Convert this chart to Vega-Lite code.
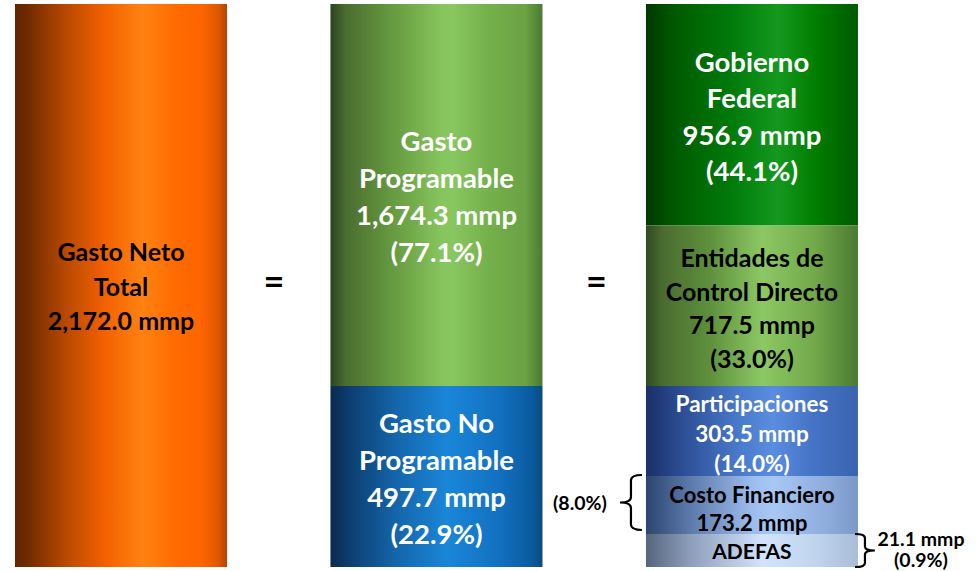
{
  "$schema": "https://vega.github.io/schema/vega-lite/v6.json",
  "width": 978,
  "height": 571,
  "autosize": {"type": "none"},
  "padding": 0,
  "background": "white",
  "config": {"view": {"stroke": null}, "text": {"font": "Lato", "fontWeight": "bold"}},
  "data": {
    "values": [
      {"col": "c1", "name": "Gasto Neto Total", "label": "Gasto Neto\nTotal\n2,172.0 mmp", "mmp": 2172.0, "pct": 100.0, "lo": 0, "hi": 100},
      {"col": "c2", "name": "Gasto Programable", "label": "Gasto\nProgramable\n1,674.3 mmp\n(77.1%)", "mmp": 1674.3, "pct": 77.1, "lo": 32.15, "hi": 100},
      {"col": "c2", "name": "Gasto No Programable", "label": "Gasto No\nProgramable\n497.7 mmp\n(22.9%)", "mmp": 497.7, "pct": 22.9, "lo": 0, "hi": 32.15},
      {"col": "c3", "name": "Gobierno Federal", "label": "Gobierno\nFederal\n956.9 mmp\n(44.1%)", "mmp": 956.9, "pct": 44.1, "lo": 60.66, "hi": 100},
      {"col": "c3", "name": "Entidades de Control Directo", "label": "Entidades de\nControl Directo\n717.5 mmp\n(33.0%)", "mmp": 717.5, "pct": 33.0, "lo": 32.15, "hi": 60.66},
      {"col": "c3", "name": "Participaciones", "label": "Participaciones\n303.5 mmp\n(14.0%)", "mmp": 303.5, "pct": 14.0, "lo": 16.16, "hi": 32.15},
      {"col": "c3", "name": "Costo Financiero", "label": "Costo Financiero\n173.2 mmp", "side": "(8.0%)", "mmp": 173.2, "pct": 8.0, "lo": 5.86, "hi": 16.16},
      {"col": "c3", "name": "ADEFAS", "label": "ADEFAS", "side": "21.1 mmp\n(0.9%)", "mmp": 21.1, "pct": 0.9, "lo": 0, "hi": 5.86}
    ]
  },
  "transform": [{"calculate": "(datum.lo + datum.hi) / 2", "as": "mid"}],
  "encoding": {
    "x": {"field": "col", "type": "nominal", "axis": null,
      "scale": {"domain": ["c1", "c2", "c3"], "paddingInner": 0.328, "paddingOuter": 0.214, "align": 0.111}}
  },
  "layer": [
    {"transform": [{"filter": "datum.name === 'Gasto Neto Total'"}],
     "mark": {"type": "bar", "color": {"gradient": "linear", "x1": 0, "y1": 0, "x2": 1, "y2": 0, "stops": [
       {"offset": 0, "color": "#622400"}, {"offset": 0.05, "color": "#6c2a00"}, {"offset": 0.25, "color": "#bc4a00"}, {"offset": 0.43, "color": "#f46200"}, {"offset": 0.6, "color": "#ff8212"}, {"offset": 0.75, "color": "#ff6c00"}, {"offset": 0.88, "color": "#ff6400"}, {"offset": 0.96, "color": "#dc5800"}, {"offset": 1, "color": "#b44400"}]}},
     "encoding": {"y": {"field": "lo", "type": "quantitative", "axis": null, "scale": {"domain": [-0.71, 100.71], "nice": false, "zero": false}}, "y2": {"field": "hi"}}},
    {"transform": [{"filter": "datum.name === 'Gasto Programable'"}],
     "mark": {"type": "bar", "color": {"gradient": "linear", "x1": 0, "y1": 0, "x2": 1, "y2": 0, "stops": [
       {"offset": 0, "color": "#2a4520"}, {"offset": 0.07, "color": "#4a6c30"}, {"offset": 0.28, "color": "#64983e"}, {"offset": 0.52, "color": "#86c45c"}, {"offset": 0.58, "color": "#88c660"}, {"offset": 0.75, "color": "#74b04a"}, {"offset": 0.92, "color": "#6aa244"}, {"offset": 1, "color": "#4a7a32"}]}},
     "encoding": {"y": {"field": "lo", "type": "quantitative"}, "y2": {"field": "hi"}}},
    {"transform": [{"filter": "datum.name === 'Gasto No Programable'"}],
     "mark": {"type": "bar", "color": {"gradient": "linear", "x1": 0, "y1": 0, "x2": 1, "y2": 0, "stops": [
       {"offset": 0, "color": "#0a2a50"}, {"offset": 0.1, "color": "#0d3f72"}, {"offset": 0.3, "color": "#1464a8"}, {"offset": 0.55, "color": "#1a86d8"}, {"offset": 0.8, "color": "#1270c0"}, {"offset": 0.95, "color": "#0a5a9e"}, {"offset": 1, "color": "#0a4a80"}]}},
     "encoding": {"y": {"field": "lo", "type": "quantitative"}, "y2": {"field": "hi"}}},
    {"transform": [{"filter": "datum.name === 'Gobierno Federal'"}],
     "mark": {"type": "bar", "color": {"gradient": "linear", "x1": 0, "y1": 0, "x2": 1, "y2": 0, "stops": [
       {"offset": 0, "color": "#003800"}, {"offset": 0.15, "color": "#005c00"}, {"offset": 0.4, "color": "#007a0a"}, {"offset": 0.62, "color": "#14981e"}, {"offset": 0.8, "color": "#007e00"}, {"offset": 1, "color": "#005a00"}]}},
     "encoding": {"y": {"field": "lo", "type": "quantitative"}, "y2": {"field": "hi"}}},
    {"transform": [{"filter": "datum.name === 'Entidades de Control Directo'"}],
     "mark": {"type": "bar", "color": {"gradient": "linear", "x1": 0, "y1": 0, "x2": 1, "y2": 0, "stops": [
       {"offset": 0, "color": "#2e4a22"}, {"offset": 0.08, "color": "#4a6c30"}, {"offset": 0.3, "color": "#5e903c"}, {"offset": 0.55, "color": "#8cc864"}, {"offset": 0.8, "color": "#72a84a"}, {"offset": 1, "color": "#4a7a32"}]}},
     "encoding": {"y": {"field": "lo", "type": "quantitative"}, "y2": {"field": "hi"}}},
    {"transform": [{"filter": "datum.name === 'Participaciones'"}],
     "mark": {"type": "bar", "color": {"gradient": "linear", "x1": 0, "y1": 0, "x2": 1, "y2": 0, "stops": [
       {"offset": 0, "color": "#1a3068"}, {"offset": 0.15, "color": "#2a4a90"}, {"offset": 0.45, "color": "#4a7ccc"}, {"offset": 0.6, "color": "#5a8ce0"}, {"offset": 0.8, "color": "#4472c4"}, {"offset": 1, "color": "#3a64b0"}]}},
     "encoding": {"y": {"field": "lo", "type": "quantitative"}, "y2": {"field": "hi"}}},
    {"transform": [{"filter": "datum.name === 'Costo Financiero'"}],
     "mark": {"type": "bar", "color": {"gradient": "linear", "x1": 0, "y1": 0, "x2": 1, "y2": 0, "stops": [
       {"offset": 0, "color": "#2c4470"}, {"offset": 0.2, "color": "#5a78a8"}, {"offset": 0.5, "color": "#9cbcec"}, {"offset": 0.6, "color": "#a8c8f4"}, {"offset": 0.85, "color": "#8eacdc"}, {"offset": 1, "color": "#7a98c8"}]}},
     "encoding": {"y": {"field": "lo", "type": "quantitative"}, "y2": {"field": "hi"}}},
    {"transform": [{"filter": "datum.name === 'ADEFAS'"}],
     "mark": {"type": "bar", "color": {"gradient": "linear", "x1": 0, "y1": 0, "x2": 1, "y2": 0, "stops": [
       {"offset": 0, "color": "#56657e"}, {"offset": 0.2, "color": "#8a9cb8"}, {"offset": 0.55, "color": "#d2e4fc"}, {"offset": 0.8, "color": "#c0d4ee"}, {"offset": 1, "color": "#a8bcd8"}]}},
     "encoding": {"y": {"field": "lo", "type": "quantitative"}, "y2": {"field": "hi"}}},

    {"transform": [{"filter": "datum.name === 'Gasto Neto Total'"}],
     "mark": {"type": "text", "fontSize": 25, "lineHeight": 34.5, "lineBreak": "\n", "color": "#000000", "baseline": "middle", "dy": -32.5},
     "encoding": {"y": {"field": "mid", "type": "quantitative"}, "text": {"field": "label"}}},
    {"transform": [{"filter": "datum.name === 'Gasto Programable'"}],
     "mark": {"type": "text", "fontSize": 27.5, "lineHeight": 37, "lineBreak": "\n", "color": "#ffffff", "baseline": "middle", "dy": -51.5},
     "encoding": {"y": {"field": "mid", "type": "quantitative"}, "text": {"field": "label"}}},
    {"transform": [{"filter": "datum.name === 'Gasto No Programable'"}],
     "mark": {"type": "text", "fontSize": 27.5, "lineHeight": 37, "lineBreak": "\n", "color": "#ffffff", "baseline": "middle", "dy": -51.5},
     "encoding": {"y": {"field": "mid", "type": "quantitative"}, "text": {"field": "label"}}},
    {"transform": [{"filter": "datum.name === 'Gobierno Federal'"}],
     "mark": {"type": "text", "fontSize": 27.5, "lineHeight": 36.5, "lineBreak": "\n", "color": "#ffffff", "baseline": "middle", "dy": -50.75},
     "encoding": {"y": {"field": "mid", "type": "quantitative"}, "text": {"field": "label"}}},
    {"transform": [{"filter": "datum.name === 'Entidades de Control Directo'"}],
     "mark": {"type": "text", "fontSize": 25, "lineHeight": 33.5, "lineBreak": "\n", "color": "#000000", "baseline": "middle", "dy": -46.25},
     "encoding": {"y": {"field": "mid", "type": "quantitative"}, "text": {"field": "label"}}},
    {"transform": [{"filter": "datum.name === 'Participaciones'"}],
     "mark": {"type": "text", "fontSize": 22.5, "lineHeight": 30, "lineBreak": "\n", "color": "#ffffff", "baseline": "middle", "dy": -26.5},
     "encoding": {"y": {"field": "mid", "type": "quantitative"}, "text": {"field": "label"}}},
    {"transform": [{"filter": "datum.name === 'Costo Financiero'"}],
     "mark": {"type": "text", "fontSize": 22, "lineHeight": 28, "lineBreak": "\n", "color": "#000000", "baseline": "middle", "dy": -9.5},
     "encoding": {"y": {"field": "mid", "type": "quantitative"}, "text": {"field": "label"}}},
    {"transform": [{"filter": "datum.name === 'ADEFAS'"}],
     "mark": {"type": "text", "fontSize": 21, "lineBreak": "\n", "color": "#000000", "baseline": "middle", "dy": 2.5},
     "encoding": {"y": {"field": "mid", "type": "quantitative"}, "text": {"field": "label"}}},

    {"transform": [{"filter": "datum.name === 'Costo Financiero'"}],
     "mark": {"type": "text", "fontSize": 19.5, "lineBreak": "\n", "color": "#000000", "baseline": "middle", "dx": -172, "dy": -1.5},
     "encoding": {"y": {"field": "mid", "type": "quantitative"}, "text": {"field": "side"}}},
    {"transform": [{"filter": "datum.name === 'ADEFAS'"}],
     "mark": {"type": "text", "fontSize": 19.5, "lineHeight": 21, "lineBreak": "\n", "color": "#000000", "baseline": "middle", "dx": 169, "dy": -10.5},
     "encoding": {"y": {"field": "mid", "type": "quantitative"}, "text": {"field": "side"}}},

    {"transform": [{"filter": "datum.name === 'Costo Financiero'"}],
     "mark": {"type": "point", "filled": false, "stroke": "#000000", "strokeWidth": 2.2, "opacity": 1, "size": 3025, "xOffset": -121, "yOffset": -2.5,
       "shape": "M0.4,-1 Q0,-1 0,-0.8 L0,-0.2 Q0,0 -0.4,0 Q0,0 0,0.2 L0,0.8 Q0,1 0.4,1"},
     "encoding": {"y": {"field": "mid", "type": "quantitative"}}},
    {"transform": [{"filter": "datum.name === 'ADEFAS'"}],
     "mark": {"type": "point", "filled": false, "stroke": "#000000", "strokeWidth": 2.2, "opacity": 1, "size": 1089, "xOffset": 113,
       "shape": "M-0.6,-1 Q0,-1 0,-0.75 L0,-0.25 Q0,0 0.6,0 Q0,0 0,0.25 L0,0.75 Q0,1 -0.6,1"},
     "encoding": {"y": {"field": "mid", "type": "quantitative"}}},

    {"transform": [{"filter": "datum.name === 'Gasto Neto Total'"}],
     "mark": {"type": "text", "text": "=", "fontSize": 36, "color": "#000000", "baseline": "middle", "dx": 153},
     "encoding": {"y": {"datum": 50.4, "type": "quantitative"}}},
    {"transform": [{"filter": "datum.name === 'Gasto Programable'"}],
     "mark": {"type": "text", "text": "=", "fontSize": 36, "color": "#000000", "baseline": "middle", "dx": 160},
     "encoding": {"y": {"datum": 50.4, "type": "quantitative"}}}
  ]
}
